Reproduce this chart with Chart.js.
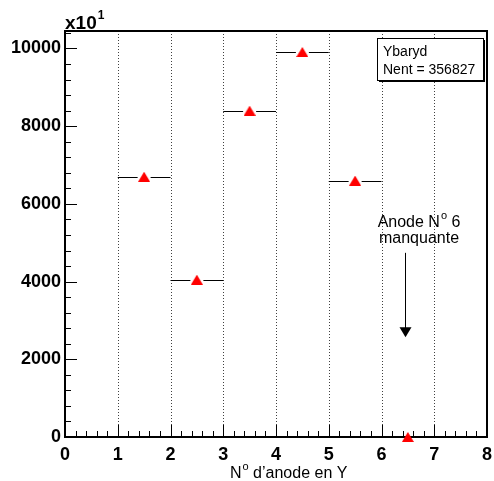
<!DOCTYPE html>
<html>
<head>
<meta charset="utf-8">
<script src="https://cdn.jsdelivr.net/npm/chart.js@4/dist/chart.umd.min.js"></script>
<style>
    body { margin: 0; background: #fff; }
    canvas { display: block; }
</style>
</head>
<body>
<canvas id="anodeChart" width="494" height="481"></canvas>
<script>
// Histogram contents (in units of x10^1)
const binCenters = [1.5, 2.5, 3.5, 4.5, 5.5, 6.5];
const counts = [6700, 4050, 8400, 9910, 6600, 0];
const binHalfWidths = [0.5, 0.5, 0.5, 0.5, 0.5, 0.5];
const xTickValues = [0, 1, 2, 3, 4, 5, 6, 7, 8];
const yTickValues = [0, 2000, 4000, 6000, 8000, 10000];
const statLines = ['Ybaryd', 'Nent = 356827'];

const FONT = '"Liberation Sans", Arial, Helvetica, sans-serif';

// ROOT style triangle marker, centred on its bounding box
function makeTriangle(w, h, color) {
    const c = document.createElement('canvas');
    c.width = w;
    c.height = h;
    const g = c.getContext('2d');
    g.fillStyle = color;
    g.beginPath();
    g.moveTo(w / 2, 0);
    g.lineTo(w, h);
    g.lineTo(0, h);
    g.closePath();
    g.fill();
    return c;
}
const triangleMarker = makeTriangle(12, 10, '#ff0000');

// Everything ROOT-like (frame, ticks, labels, error bars, stat box) drawn here
const rootStylePlugin = {
    id: 'rootStyle',
    beforeDraw(chart) {
        const ctx = chart.ctx;
        ctx.save();
        ctx.fillStyle = '#fff';
        ctx.fillRect(0, 0, chart.width, chart.height);
        ctx.restore();
    },
    beforeDatasetsDraw(chart) {
        const ctx = chart.ctx;
        const area = chart.chartArea;
        const xs = chart.scales.x;
        const ys = chart.scales.y;
        ctx.save();

        // vertical dotted grid
        ctx.strokeStyle = 'rgba(0,0,0,0.75)';
        ctx.lineWidth = 1;
        ctx.setLineDash([1, 2]);
        for (let v = 1; v <= 7; v++) {
            const px = Math.round(xs.getPixelForValue(v)) + 0.5;
            ctx.beginPath();
            ctx.moveTo(px, area.top);
            ctx.lineTo(px, area.bottom);
            ctx.stroke();
        }
        ctx.setLineDash([]);

        // horizontal error bars with a gap around the marker
        ctx.strokeStyle = '#000';
        ctx.lineWidth = 1;
        const gap = 6.5;
        binCenters.forEach((c, i) => {
            const py = Math.round(ys.getPixelForValue(counts[i])) + 0.5;
            const pc = xs.getPixelForValue(c);
            const pl = xs.getPixelForValue(c - binHalfWidths[i]);
            const pr = xs.getPixelForValue(c + binHalfWidths[i]);
            ctx.beginPath();
            ctx.moveTo(pl, py);
            ctx.lineTo(pc - gap, py);
            ctx.moveTo(pc + gap, py);
            ctx.lineTo(pr, py);
            ctx.stroke();
        });

        // ticks on the x axis (major every 1, minor every 0.2)
        ctx.strokeStyle = '#000';
        ctx.lineWidth = 1;
        for (let k = 0; k <= 40; k++) {
            const v = k * 0.2;
            const px = Math.round(xs.getPixelForValue(v)) + 0.5;
            const len = (k % 5 === 0) ? 12 : 6;
            ctx.beginPath();
            ctx.moveTo(px, area.bottom);
            ctx.lineTo(px, area.bottom - len);
            ctx.stroke();
        }
        // ticks on the y axis (major every 2000, minor every 400)
        for (let v = 0; v <= ys.max; v += 400) {
            const py = Math.round(ys.getPixelForValue(v)) + 0.5;
            const len = (v % 2000 === 0) ? 12 : 6;
            ctx.beginPath();
            ctx.moveTo(area.left, py);
            ctx.lineTo(area.left + len, py);
            ctx.stroke();
        }

        // frame
        ctx.lineWidth = 2;
        ctx.strokeRect(area.left, area.top, area.right - area.left, area.bottom - area.top);
        ctx.restore();
    },
    afterDatasetsDraw(chart) {
        const ctx = chart.ctx;
        const area = chart.chartArea;
        const xs = chart.scales.x;
        const ys = chart.scales.y;
        ctx.save();
        ctx.fillStyle = '#000';

        // tick labels
        ctx.font = 'bold 18px ' + FONT;
        ctx.textAlign = 'center';
        ctx.textBaseline = 'alphabetic';
        xTickValues.forEach(v => {
            ctx.fillText(String(v), xs.getPixelForValue(v), 460);
        });
        ctx.textAlign = 'right';
        ctx.textBaseline = 'middle';
        yTickValues.forEach(v => {
            ctx.fillText(String(v), area.left - 4, ys.getPixelForValue(v));
        });

        // exponent label
        ctx.textAlign = 'left';
        ctx.textBaseline = 'alphabetic';
        ctx.font = 'bold 19px ' + FONT;
        ctx.fillText('x10', area.left, 29);
        const xw = ctx.measureText('x10').width;
        ctx.font = 'bold 12px ' + FONT;
        ctx.fillText('1', area.left + xw + 1, 19);

        // x title
        ctx.font = '16px ' + FONT;
        ctx.fillText('N', 230, 478);
        const nw = ctx.measureText('N').width;
        ctx.font = '11px ' + FONT;
        ctx.fillText('o', 230 + nw + 1, 470);
        const ow = ctx.measureText('o').width;
        ctx.font = '16px ' + FONT;
        ctx.fillText(' d\u2019anode en Y', 230 + nw + 1 + ow, 478);

        // stat box
        const bx = 377, by = 38, bw = 106, bh = 42;
        ctx.fillRect(bx + 2, by + 2, bw, bh);
        ctx.fillStyle = '#fff';
        ctx.fillRect(bx, by, bw, bh);
        ctx.strokeStyle = '#000';
        ctx.lineWidth = 1;
        ctx.strokeRect(bx + 0.5, by + 0.5, bw, bh);
        ctx.fillStyle = '#000';
        ctx.font = '14px ' + FONT;
        ctx.fillText(statLines[0], bx + 6, by + 18);
        ctx.fillText(statLines[1], bx + 6, by + 36);

        // annotation for missing anode
        ctx.font = '16px ' + FONT;
        const t1a = 'Anode N';
        const t1b = ' 6';
        const wA = ctx.measureText(t1a).width;
        const wB = ctx.measureText(t1b).width;
        ctx.font = '11px ' + FONT;
        const wO = ctx.measureText('o').width;
        const cx = 419;
        let x0 = cx - (wA + wO + 1 + wB) / 2;
        ctx.font = '16px ' + FONT;
        ctx.fillText(t1a, x0, 227);
        ctx.font = '11px ' + FONT;
        ctx.fillText('o', x0 + wA + 1, 219);
        ctx.font = '16px ' + FONT;
        ctx.fillText(t1b, x0 + wA + 1 + wO, 227);
        ctx.textAlign = 'center';
        ctx.fillText('manquante', cx, 243);

        // arrow
        const ax = Math.round(xs.getPixelForValue(6.45)) + 0.5;
        const ay1 = ys.getPixelForValue(4740);
        const ay2 = ys.getPixelForValue(2570);
        ctx.lineWidth = 1;
        ctx.beginPath();
        ctx.moveTo(ax, ay1);
        ctx.lineTo(ax, ay2 - 6);
        ctx.stroke();
        ctx.beginPath();
        ctx.moveTo(ax - 6, ay2 - 10);
        ctx.lineTo(ax + 6, ay2 - 10);
        ctx.lineTo(ax, ay2);
        ctx.closePath();
        ctx.fill();

        ctx.restore();
    }
};

const ctx = document.getElementById('anodeChart').getContext('2d');
new Chart(ctx, {
    type: 'scatter',
    data: {
        datasets: [{
            label: 'Ybaryd',
            data: binCenters.map((x, i) => ({ x: x, y: counts[i] })),
            pointStyle: triangleMarker,
            radius: 6,
            clip: false
        }]
    },
    options: {
        responsive: false,
        animation: false,
        devicePixelRatio: 1,
        layout: {
            padding: { left: 65, right: 6, top: 31, bottom: 44 }
        },
        scales: {
            x: { type: 'linear', min: 0, max: 8, display: false },
            y: { type: 'linear', min: 0, max: 10450, display: false }
        },
        plugins: {
            legend: { display: false },
            tooltip: { enabled: false }
        }
    },
    plugins: [rootStylePlugin]
});
</script>
</body>
</html>
